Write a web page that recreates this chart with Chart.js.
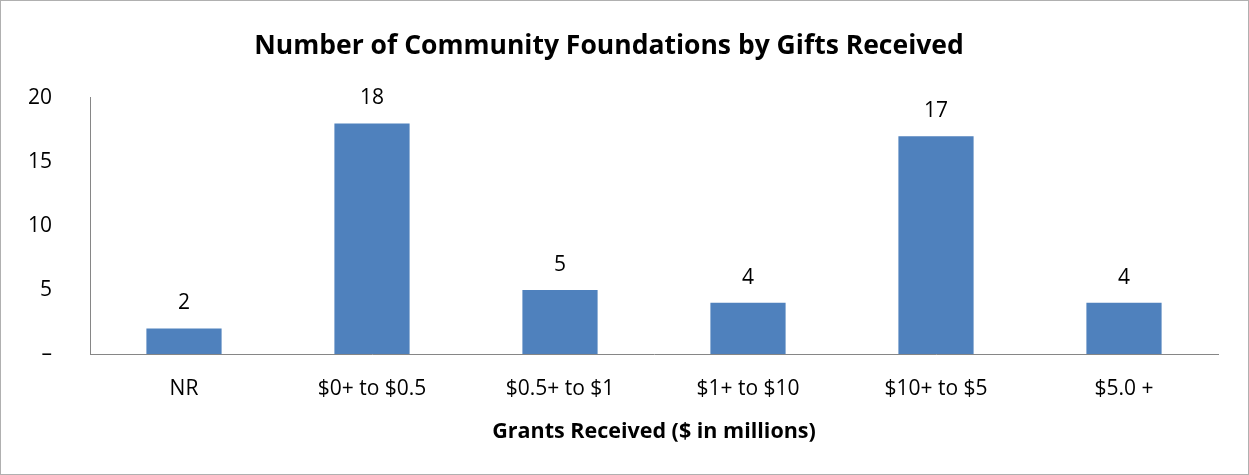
<!DOCTYPE html>
<html>
<head>
<meta charset="utf-8">
<script src="https://cdn.jsdelivr.net/npm/chart.js@4/dist/chart.umd.min.js"></script>
<style>
html,body{margin:0;padding:0;background:#fff;}
#wrap{width:1249px;height:475px;position:relative;}
</style>
</head>
<body>
<div id="wrap"><canvas id="c" width="1249" height="475"></canvas></div>
<script>
const categories = ["NR", "$0+ to $0.5", "$0.5+ to $1", "$1+ to $10", "$10+ to $5", "$5.0 +"];
const counts = [2, 18, 5, 4, 17, 4];
const yTicks = [0, 5, 10, 15, 20];
const zeroLabel = "\u2013";
const titleText = "Number of Community Foundations by Gifts Received";
const xTitleText = "Grants Received ($ in millions)";

const FONT = "'Open Sans', sans-serif";
const TICK_SIZE = 21;

const borderPlugin = {
  id: 'outerBorder',
  afterDraw(chart) {
    const ctx = chart.ctx;
    ctx.save();
    ctx.strokeStyle = '#b0b0b0';
    ctx.lineWidth = 1;
    ctx.strokeRect(0.5, 0.5, chart.width - 1, chart.height - 1);
    ctx.restore();
  }
};

const valueLabels = {
  id: 'valueLabels',
  afterDatasetsDraw(chart) {
    const ctx = chart.ctx;
    const meta = chart.getDatasetMeta(0);
    ctx.save();
    ctx.font = TICK_SIZE + "px " + FONT;
    ctx.fillStyle = '#000';
    ctx.textAlign = 'center';
    ctx.textBaseline = 'middle';
    meta.data.forEach((bar, i) => {
      ctx.fillText(String(chart.data.datasets[0].data[i]), bar.x, bar.y - 25);
    });
    ctx.restore();
  }
};

new Chart(document.getElementById('c'), {
  type: 'bar',
  data: {
    labels: categories,
    datasets: [{
      data: counts,
      backgroundColor: '#4F81BD',
      borderWidth: 0,
      categoryPercentage: 1.0,
      barPercentage: 0.4
    }]
  },
  options: {
    responsive: false,
    animation: false,
    devicePixelRatio: 1,
    layout: { padding: { left: 0, right: 31, top: 0, bottom: 0 } },
    plugins: {
      legend: { display: false },
      tooltip: { enabled: false },
      title: {
        display: true,
        text: titleText,
        color: '#000',
        font: { family: FONT, size: 26.5, weight: 'bold', lineHeight: 1.2 },
        padding: { top: 31, bottom: 35 }
      }
    },
    scales: {
      x: {
        grid: { display: false, drawTicks: false },
        border: { display: true, color: '#868686', width: 1 },
        ticks: { color: '#000', font: { family: FONT, size: TICK_SIZE }, padding: 22, maxRotation: 0 },
        title: {
          display: true,
          text: xTitleText,
          color: '#000',
          font: { family: FONT, size: 21.5, weight: 'bold', lineHeight: 1.2 },
          padding: { top: 10, bottom: 30 }
        },
        afterFit(scale) { scale.height = 475 - 354; }
      },
      y: {
        min: 0, max: 20,
        afterBuildTicks(scale) { scale.ticks = yTicks.map(v => ({ value: v })); },
        grid: { display: false, drawTicks: false },
        border: { display: true, color: '#868686', width: 1 },
        ticks: {
          color: '#000',
          font: { family: FONT, size: TICK_SIZE },
          padding: 38,
          callback: (v) => v === 0 ? zeroLabel : String(v)
        },
        afterFit(scale) { scale.width = 90; }
      }
    }
  },
  plugins: [borderPlugin, valueLabels]
});
</script>
</body>
</html>
